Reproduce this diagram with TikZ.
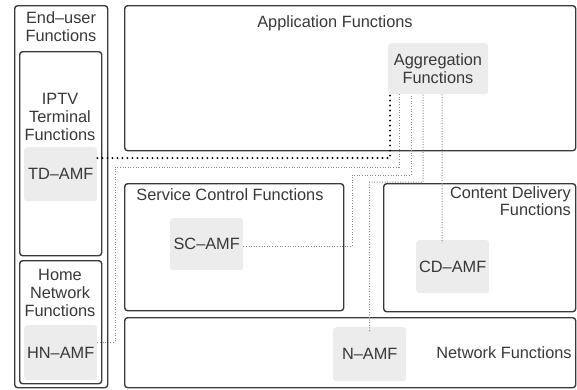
\documentclass[tikz,border=0pt]{standalone}
\usepackage{fontspec}
\setmainfont{Liberation Sans}
\usetikzlibrary{calc}
\definecolor{edge}{HTML}{3A3A3A}
\definecolor{txt}{HTML}{383838}
\definecolor{amf}{HTML}{ECECEC}
\definecolor{thin}{HTML}{8A8A8A}
\tikzset{
  box/.style={draw=edge, line width=1.4bp, rounded corners=3bp, anchor=north west, inner sep=0pt},
  amfbox/.style={fill=amf, rounded corners=3bp, anchor=north west, inner sep=0pt},
  lbl/.style={text=txt, font=\fontsize{16.4}{18}\selectfont, align=center, inner sep=0pt},
  bigdots/.style={draw=black, line width=2.2bp, line cap=round, dash pattern=on 0bp off 5bp},
  smalldots/.style={draw=thin, line width=1bp, dash pattern=on 1bp off 1.6bp},
}
\begin{document}
\begin{tikzpicture}[x=1bp, y=-1bp]
\useasboundingbox (0,0) rectangle (577,389);
% outer boxes
\node[box, minimum width=93bp, minimum height=382bp] (eu) at (14,5) {};
\node[box, minimum width=82bp, minimum height=204bp] (iptv) at (19,51) {};
\node[box, minimum width=82bp, minimum height=123bp] (home) at (19,260) {};
\node[box, minimum width=451bp, minimum height=145bp] (app) at (124,5) {};
\node[box, minimum width=219bp, minimum height=127bp] (scf) at (124,183) {};
\node[box, minimum width=192bp, minimum height=128bp] (cdf) at (383,183) {};
\node[box, minimum width=451bp, minimum height=70bp] (nf) at (124,317) {};
% grey function boxes
\node[amfbox, minimum width=73bp, minimum height=54bp] (td) at (24,147) {};
\node[amfbox, minimum width=73bp, minimum height=55bp] (hn) at (24,325) {};
\node[amfbox, minimum width=100bp, minimum height=51bp] (agg) at (388,43) {};
\node[amfbox, minimum width=73bp, minimum height=52bp] (sc) at (170,218) {};
\node[amfbox, minimum width=73bp, minimum height=53bp] (cd) at (416,240) {};
\node[amfbox, minimum width=73bp, minimum height=54bp] (na) at (333,327) {};
% labels
\node[lbl] (eut) at (61,27) {End–user\\Functions};
\node[lbl] (iptvt) at (60,117) {IPTV\\Terminal\\Functions};
\node[lbl] (homet) at (60,293) {Home\\Network\\Functions};
\node[lbl] (appt) at (335,23) {Application Functions};
\node[lbl] (aggt) at (438,69) {Aggregation\\Functions};
\node[lbl] (scft) at (230,195) {Service Control Functions};
\node[lbl, align=right, anchor=north east] (cdft) at (571,186) {Content Delivery\\Functions};
\node[lbl] (nft) at (504,353) {Network Functions};
\node[lbl] (tdt) at (td.center) {TD–AMF};
\node[lbl] (hnt) at (hn.center) {HN–AMF};
\node[lbl] (sct) at (sc.center) {SC–AMF};
\node[lbl] (cdt) at (cd.center) {CD–AMF};
\node[lbl] (nat) at (na.center) {N–AMF};
% connectors
\draw[bigdots] ([yshift=-11bp]td.north east) -| ([xshift=2bp]agg.south west);
\draw[smalldots] ([yshift=-17bp]hn.north east) -| (115,167) -| ([xshift=11bp]agg.south west);
\draw[smalldots] ([yshift=-2bp]sc.east) -| (352,175) -| ([xshift=23bp]agg.south west);
\draw[smalldots] ([yshift=-4bp]na.north) |- (423,182) -- ([xshift=35bp]agg.south west);
\draw[smalldots] ([xshift=54bp]agg.south west) -- ([xshift=26bp,yshift=-3bp]cd.north west);
\end{tikzpicture}
\end{document}
